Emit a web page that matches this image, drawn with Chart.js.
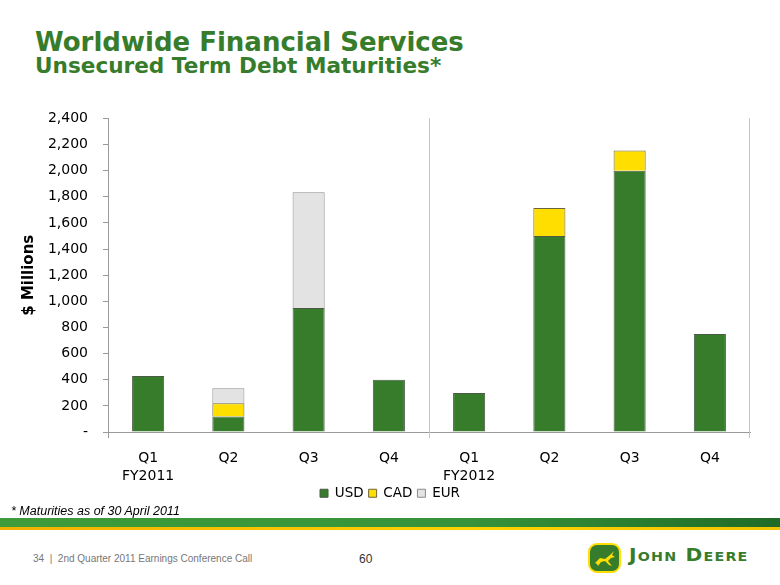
<!DOCTYPE html>
<html>
<head>
<meta charset="utf-8">
<script src="https://cdn.jsdelivr.net/npm/chart.js@4.4.1/dist/chart.umd.min.js"></script>
<style>
  html,body{margin:0;padding:0;background:#fff;}
  #wrap{position:relative;width:780px;height:585px;overflow:hidden;background:#fff;}
  .t1{position:absolute;left:35px;top:29px;font:bold 26px "DejaVu Sans";line-height:1;color:#367C2B;white-space:nowrap;}
  .t2{position:absolute;left:35px;top:55px;font:bold 21.6px "DejaVu Sans";line-height:1;color:#367C2B;white-space:nowrap;}
  #c{position:absolute;left:0;top:95px;}
  .note{position:absolute;left:11px;top:505px;font:italic 12.5px "Liberation Sans";line-height:1;color:#000;white-space:nowrap;}
  .band{position:absolute;left:0;top:518px;width:780px;height:9px;background:linear-gradient(to right,#3f9c3a,#36933a 60%,#1f6b26);}
  .stripe{position:absolute;left:0;top:527px;width:780px;height:3px;background:linear-gradient(to right,#f2b000,#ffd200 60%,#f2c400);}
  .foot{position:absolute;left:33px;top:554px;font:10px "Liberation Sans";line-height:1;color:#777;white-space:pre;}
  .pg{position:absolute;left:359px;top:553px;font:12px "Liberation Sans";line-height:1;color:#333;}
  .logo{position:absolute;left:588px;top:543px;}
  .jd{position:absolute;left:629px;top:547px;font:bold 17px "DejaVu Sans";font-variant:small-caps;letter-spacing:1px;line-height:1;color:#367C2B;white-space:nowrap;transform:scaleX(1.19);transform-origin:0 0;}
</style>
</head>
<body>
<div id="wrap">
  <div class="t1">Worldwide Financial Services</div>
  <div class="t2">Unsecured Term Debt Maturities*</div>
  <canvas id="c" width="780" height="436"></canvas>
  <div class="note">* Maturities as of 30 April 2011</div>
  <div class="band"></div>
  <div class="stripe"></div>
  <div class="foot">34  |  2nd Quarter 2011 Earnings Conference Call</div>
  <div class="pg">60</div>
  <svg class="logo" width="33" height="30" viewBox="0 0 33 30">
    <rect x="1" y="1" width="31" height="28" rx="8" ry="8" fill="#367C2B" stroke="#FFDE00" stroke-width="2"/>
    <path d="M7 20 L12 15 L17 16 L22 12 L26 8 L24 12 L27 14 L23 15 L20 18 L24 23 L21 22 L17 18 L13 19 L10 23 L9 21 Z" fill="#FFDE00"/>
  </svg>
  <div class="jd">John Deere</div>
</div>
<script>
const categories = [['Q1','FY2011'],'Q2','Q3','Q4',['Q1','FY2012'],'Q2','Q3','Q4'];
const usd = [430, 120, 950, 400, 300, 1500, 2000, 750];
const cad = [null, 100, null, null, null, 215, 155, null];
const eur = [null, 115, 885, null, null, null, null, null];
const yTicksMax = 2400;
const yTickStep = 200;

const sepPlugin = {
  id: 'sep',
  afterLayout(chart) {
    const lg = chart.legend;
    if (lg) { lg.left += 7; lg.right += 7; lg.top -= 15; lg.bottom -= 15; }
  },
  beforeDatasetsDraw(chart) {
    const {ctx, chartArea: a, scales: {x}} = chart;
    ctx.save();
    ctx.strokeStyle = '#c4c4c4';
    ctx.lineWidth = 1;
    const xm = Math.round((x.getPixelForValue(3) + x.getPixelForValue(4)) / 2) + 0.5;
    const xr = Math.round(a.right) - 0.5;
    ctx.beginPath();
    ctx.moveTo(xm, a.top); ctx.lineTo(xm, a.bottom + 6);
    ctx.moveTo(xr, a.top); ctx.lineTo(xr, a.bottom + 6);
    ctx.stroke();
    ctx.strokeStyle = '#9a9a9a';
    ctx.beginPath();
    const xl = Math.round(a.left) + 0.5;
    ctx.moveTo(xl, a.bottom); ctx.lineTo(xl, a.bottom + 6);
    ctx.stroke();
    ctx.restore();
  }
};

new Chart(document.getElementById('c'), {
  type: 'bar',
  data: {
    labels: categories,
    datasets: [
      {label: 'USD', data: usd, backgroundColor: '#367C2B', borderColor: '#4a5a44', borderWidth: 1},
      {label: 'CAD', data: cad, backgroundColor: '#FFDE00', borderColor: '#6b6440', borderWidth: 1},
      {label: 'EUR', data: eur, backgroundColor: '#E3E3E3', borderColor: '#8a8a8a', borderWidth: 1}
    ]
  },
  options: {
    responsive: false,
    animation: false,
    devicePixelRatio: 1,
    layout: {padding: {left: 16, right: 30, top: 18, bottom: 6}},
    datasets: {bar: {categoryPercentage: 1, barPercentage: 0.4}},
    plugins: {
      legend: {
        position: 'bottom',
        labels: {boxWidth: 8, boxHeight: 8, padding: 5, color: '#000', font: {family: 'DejaVu Sans', size: 13.5}}
      },
      tooltip: {enabled: false}
    },
    scales: {
      x: {
        stacked: true,
        grid: {display: true, drawOnChartArea: false, drawTicks: true, tickLength: 6, color: 'rgba(0,0,0,0)'},
        border: {display: true, color: '#9a9a9a'},
        ticks: {padding: 11, color: '#000', font: {family: 'DejaVu Sans', size: 14, lineHeight: 1.3}, maxRotation: 0}
      },
      y: {
        stacked: true,
        min: 0,
        max: yTicksMax,
        afterFit(s) { s.width = 92; },
        grid: {display: true, drawOnChartArea: false, drawTicks: true, tickLength: 5, color: '#9a9a9a'},
        border: {display: true, color: '#9a9a9a'},
        ticks: {
          stepSize: yTickStep, padding: 15, color: '#000',
          font: {family: 'DejaVu Sans', size: 14},
          callback: v => v === 0 ? '-' : v.toLocaleString('en-US')
        },
        title: {display: true, text: '$ Millions', color: '#000', font: {family: 'DejaVu Sans', size: 15, weight: 'bold'}, padding: {top: 4, bottom: 4}}
      }
    }
  },
  plugins: [sepPlugin]
});
</script>
</body>
</html>
